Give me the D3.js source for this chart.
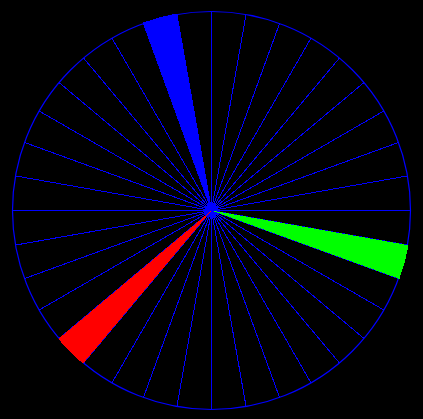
<!DOCTYPE html>
<html>
<head>
<meta charset="utf-8">
<script src="https://cdn.jsdelivr.net/npm/d3@7"></script>
<style>
html, body { margin: 0; padding: 0; background: #000; }
svg { display: block; }
</style>
</head>
<body>
<script>
// Data
const wedgeNames = ["blue", "green", "red"];
const wedgeStartDeg = [340, 100, 220];
const wedgeEndDeg = [350, 110, 230];
const wedgeValue = [1, 1, 1];
const wedgeColors = ["#0000ff", "#00ff00", "#ff0000"];
const spokeAnglesDeg = [0,10,20,30,40,50,60,70,80,90,100,110,120,130,140,150,160,170,
                        180,190,200,210,220,230,240,250,260,270,280,290,300,310,320,330,340,350];

const W = 423, H = 419;
const cx = 211.5, cy = 210.5, R = 199;

const svg = d3.select("body").append("svg")
  .attr("width", W).attr("height", H)
  .style("background", "#000");

const angle = d3.scaleLinear().domain([0, 360]).range([0, 2 * Math.PI]);
const radius = d3.scaleLinear().domain([0, 1]).range([0, R]);

const g = svg.append("g").attr("transform", `translate(${cx},${cy})`);

// outer circle
g.append("circle")
  .attr("r", radius(1))
  .attr("fill", "none")
  .attr("stroke", "#0000ff")
  .attr("stroke-width", 1.2);

// spokes
g.selectAll("line.spoke").data(spokeAnglesDeg).enter().append("line")
  .attr("class", "spoke")
  .attr("x1", 0).attr("y1", 0)
  .attr("x2", d => radius(1) * Math.sin(angle(d)))
  .attr("y2", d => -radius(1) * Math.cos(angle(d)))
  .attr("stroke", "#0000ff")
  .attr("stroke-width", 1)
  .attr("shape-rendering", "crispEdges");

// wedges
const arc = d3.arc()
  .innerRadius(0)
  .outerRadius((d, i) => radius(wedgeValue[i]) + 1)
  .startAngle((d, i) => angle(wedgeStartDeg[i]))
  .endAngle((d, i) => angle(wedgeEndDeg[i]));

g.selectAll("path.wedge").data(wedgeNames).enter().append("path")
  .attr("class", "wedge")
  .attr("d", (d, i) => arc(d, i))
  .attr("fill", (d, i) => wedgeColors[i])
  .attr("shape-rendering", "crispEdges");
</script>
</body>
</html>
